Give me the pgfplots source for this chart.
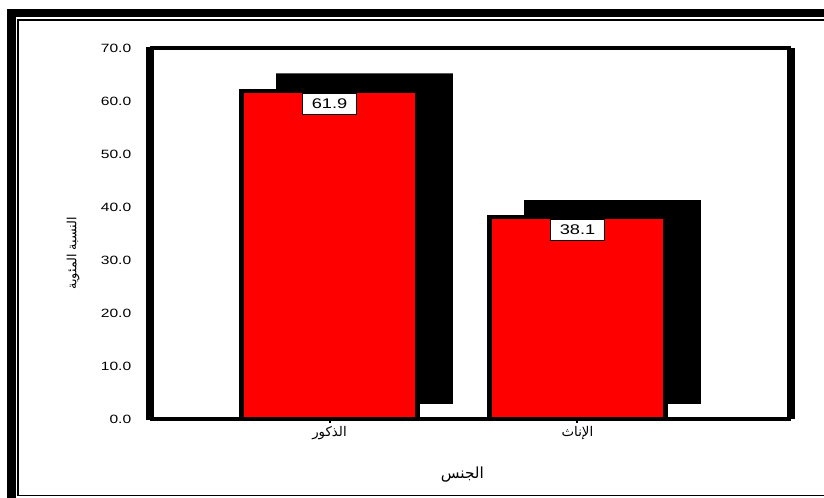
\documentclass[border=0pt]{standalone}
\usepackage{fontspec}
\setmainfont{Liberation Sans}
\newfontfamily\arabicfont[Script=Arabic]{DejaVu Sans}
\TeXXeTstate=1
\usepackage{pgfplots}
\pgfplotsset{compat=1.18}
\pgfplotsset{/pgf/number format/assume math mode=true}
\begin{document}
\begin{tikzpicture}
\useasboundingbox (0,0) rectangle (618pt,-373.5pt);
\begin{scope}[x=0.75pt,y=-0.75pt]
\fill[black] (7,9) rectangle (830,17.3);
\fill[black] (7,9) rectangle (15.5,505);
\draw[line width=1.4pt] (830,20) -- (18.3,20) -- (18.3,495.5) -- (830,495.5);
\end{scope}
\begin{axis}[
  at={(112.5pt,-314.25pt)}, anchor=south west,
  scale only axis, width=481.1pt, height=278.25pt,
  xmin=-0.724, xmax=1.863, ymin=0, ymax=70,
  enlargelimits=false,
  axis on top,
  separate axis lines,
  x axis line style={line width=2.6pt},
  y axis line style={line width=6pt},
  xtick={0,1},
  xticklabels={{\arabicfont\beginR الذكور\endR},{\arabicfont\beginR الإناث\endR}},
  ytick={0,10,...,70},
  yticklabel={\pgfmathprintnumber[fixed,fixed zerofill,precision=1]{\tick}},
  xtick pos=left, ytick pos=left,
  tick align=outside,
  major tick length=3pt,
  major tick style={line width=1.5pt, black},
  yticklabel style={font=\fontsize{9}{10}\selectfont, xscale=1.3, xshift=-5pt},
  xticklabel style={font=\fontsize{10}{11}\selectfont, yshift=1pt},
  xlabel={\arabicfont\beginR الجنس\endR},
  xlabel style={font=\fontsize{11.5}{12}\selectfont, at={(axis description cs:0.487,-0.151)}, anchor=center},
  ylabel={\arabicfont\beginR النسبة المئوية\endR},
  ylabel style={font=\fontsize{9.5}{11}\selectfont, at={(axis description cs:-0.12,0.447)}, anchor=center, rotate=0},
]
\addplot[ybar, bar width=132.5pt, bar shift=26.25pt, fill=black, draw=none] coordinates {(0,65.2) (1,41.3)};
\addplot[ybar, bar width=134pt, bar shift=26.25pt, fill=white, draw=none] coordinates {(0,2.83) (1,2.83)};
\addplot[ybar, bar width=132pt, bar shift=0pt, fill=red, draw=black, line width=3.5pt,
  nodes near coords={\pgfmathprintnumber[fixed,fixed zerofill,precision=1]{\pgfplotspointmeta}},
  every node near coord/.append style={font=\fontsize{10.5}{12}\selectfont, fill=white, draw=black, line width=0.75pt, xscale=1.3, inner xsep=5.2pt, inner ysep=4pt, anchor=north, yshift=-1.5pt}
] coordinates {(0,61.9) (1,38.1)};
\end{axis}
\end{tikzpicture}
\end{document}
